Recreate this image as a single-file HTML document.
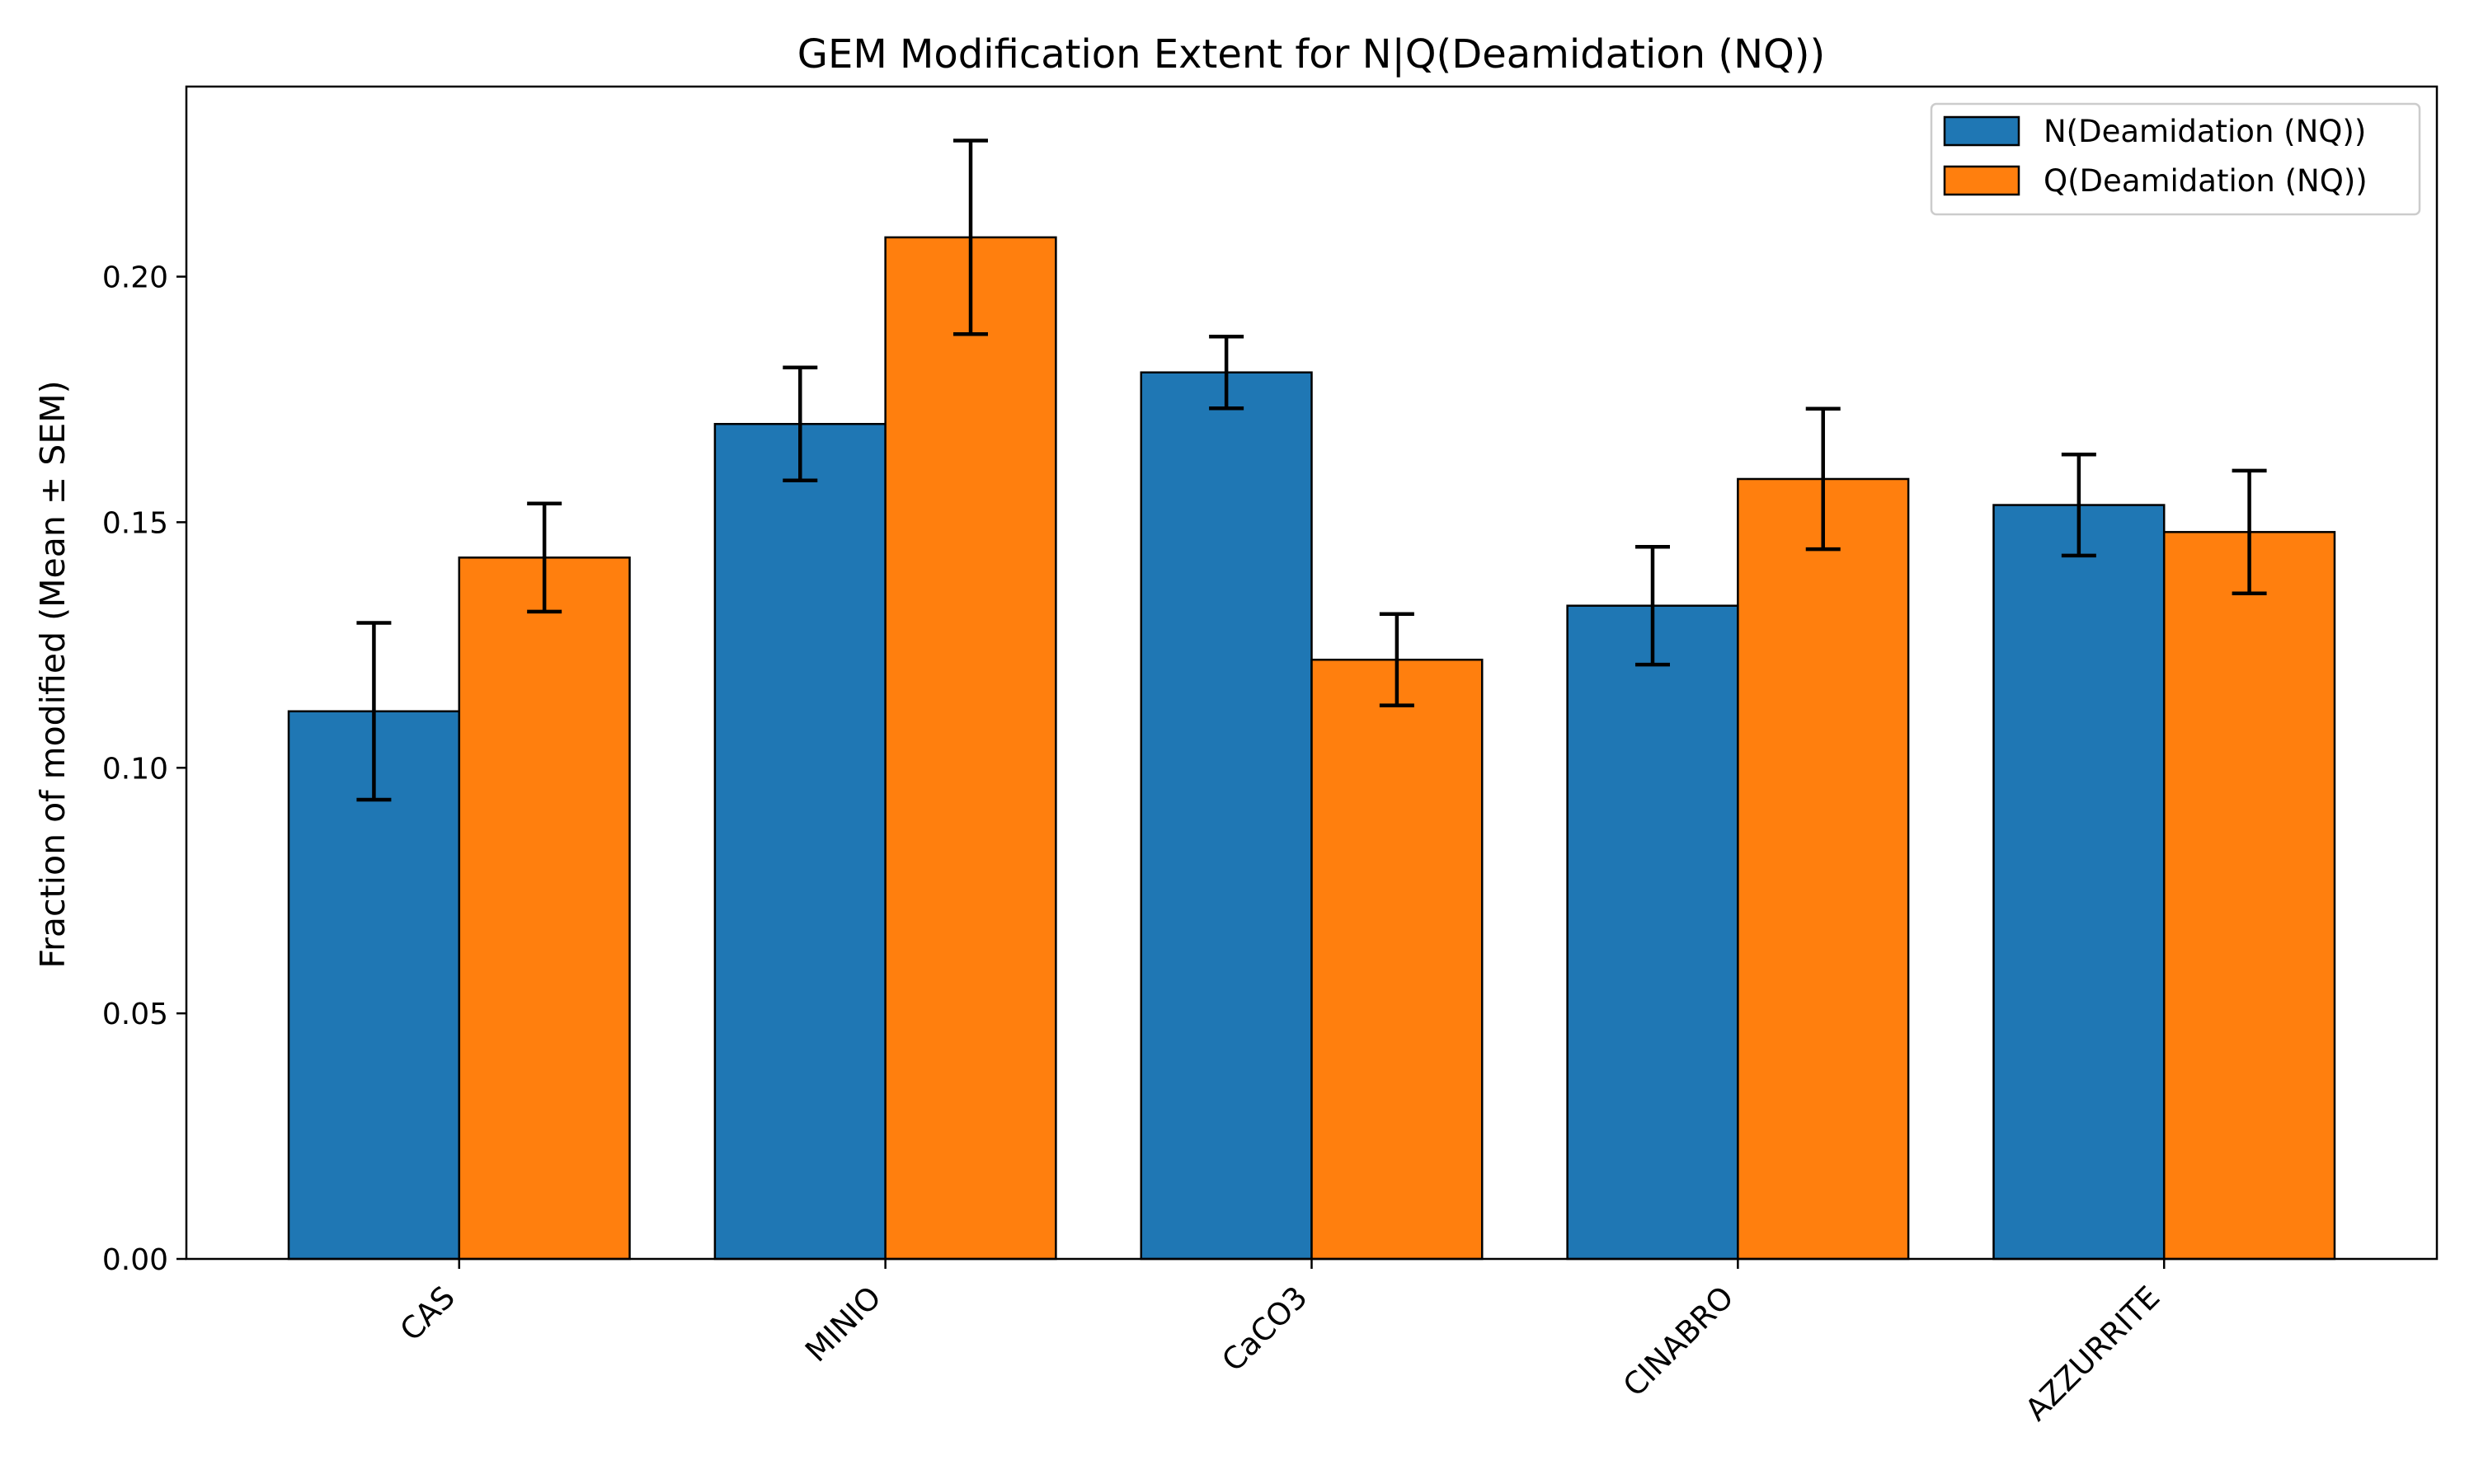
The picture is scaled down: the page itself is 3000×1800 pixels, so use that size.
<!DOCTYPE html>
<html><head><meta charset="utf-8"><style>body{margin:0;background:#fff}svg{display:block}text{font-family:"DejaVu Sans","Liberation Sans",sans-serif;fill:#000}</style></head>
<body>
<svg id="chart" width="3000" height="1800" viewBox="0 0 3000 1800" xmlns="http://www.w3.org/2000/svg">
<rect width="3000" height="1800" fill="#fff"/>
<text x="1590" y="82" font-size="48" text-anchor="middle">GEM Modification Extent for N|Q(Deamidation (NQ))</text>
<text transform="translate(78,818) rotate(-90)" font-size="41" text-anchor="middle">Fraction of modified (Mean ± SEM)</text>
<g id="plot"></g>
</svg>
<script>
const categories=["CAS","MINIO","CaCO3","CINABRO","AZZURRITE"];
const nValues=[0.1115,0.170,0.1805,0.133,0.1535];
const nErrors=[0.018,0.0115,0.0073,0.012,0.0103];
const qValues=[0.1428,0.208,0.122,0.1588,0.148];
const qErrors=[0.011,0.0197,0.0093,0.0143,0.0125];
const yTicks=[0,0.05,0.10,0.15,0.20];
const yTickLabels=["0.00","0.05","0.10","0.15","0.20"];
const seriesNames=["N(Deamidation (NQ))","Q(Deamidation (NQ))"];

const L=226,R=2955,T=105,B=1527;
const xmin=-0.64,xmax=4.64,ymax=0.2387;
const xs=v=>L+(v-xmin)/(xmax-xmin)*(R-L);
const ys=v=>B-v/ymax*(B-T);
const NS="http://www.w3.org/2000/svg";
const g=document.getElementById('plot');
function el(t,a,p){const e=document.createElementNS(NS,t);for(const k in a)e.setAttribute(k,a[k]);(p||g).appendChild(e);return e;}
const w=0.4;
const colors=["#1f77b4","#ff7f0e"];
const vals=[nValues,qValues],errs=[nErrors,qErrors];
for(let s=0;s<2;s++){
  for(let i=0;i<categories.length;i++){
    const x0=i-w+s*w, v=vals[s][i];
    const r=el('rect',{x:xs(x0),y:ys(v),width:xs(x0+w)-xs(x0),height:ys(0)-ys(v),fill:colors[s],stroke:"#000","stroke-width":2.5});
    
    
  }
}
for(let s=0;s<2;s++){
  for(let i=0;i<categories.length;i++){
    const cx=xs(i-w/2+s*w), v=vals[s][i], e=errs[s][i];
    const eg=el('g',{stroke:"#000","stroke-width":4.5});
    
    
    el('line',{x1:cx,x2:cx,y1:ys(v-e),y2:ys(v+e)},eg);
    el('line',{x1:cx-21,x2:cx+21,y1:ys(v-e),y2:ys(v-e)},eg);
    el('line',{x1:cx-21,x2:cx+21,y1:ys(v+e),y2:ys(v+e)},eg);
  }
}
const frame=el('rect',{x:L,y:T,width:R-L,height:B-T,fill:"none",stroke:"#000","stroke-width":2.5});


for(let i=0;i<yTicks.length;i++){
  const y=ys(yTicks[i]);
  el('line',{x1:L-12,x2:L,y1:y,y2:y,stroke:"#000","stroke-width":2.5});
  const t=el('text',{x:L-22,y:y+13,"font-size":36,"text-anchor":"end"});
  t.textContent=yTickLabels[i];
  
  
}
for(let i=0;i<categories.length;i++){
  const x=xs(i);
  el('line',{x1:x,x2:x,y1:B,y2:B+12,stroke:"#000","stroke-width":2.5});
  const t=el('text',{transform:`translate(${x-22},${B+30}) rotate(-45)`,"font-size":37,"text-anchor":"end",dy:"0.72em"});
  t.textContent=categories[i];
  
  
}
const lg=el('g',{});


el('rect',{x:2342,y:126,width:592,height:134,rx:6,fill:"#fff",stroke:"#ccc","stroke-width":2.5},lg);
for(let s=0;s<2;s++){
  const y=142+s*60;
  const sw=el('rect',{x:2358,y:y,width:90,height:34,fill:colors[s],stroke:"#000","stroke-width":2.5},lg);
  
  
  const t=el('text',{x:2478,y:y+30,"font-size":37},lg);
  t.textContent=seriesNames[s];
  
  
}
</script>
</body></html>
